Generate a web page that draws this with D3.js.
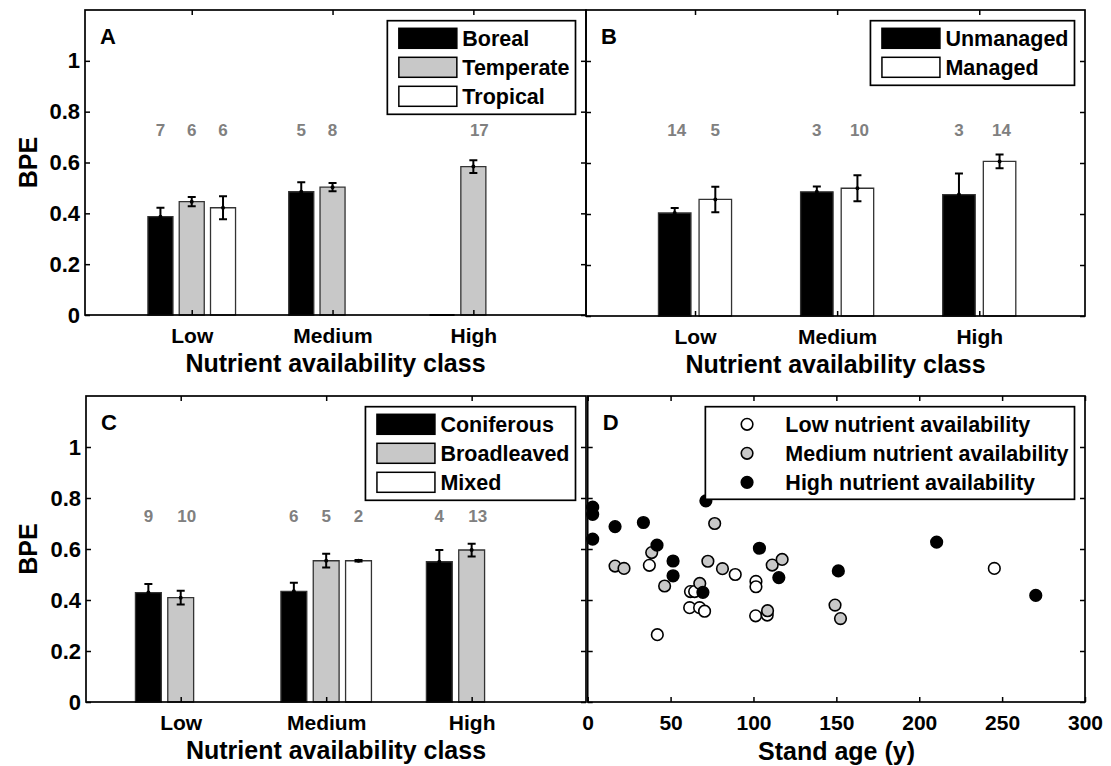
<!DOCTYPE html>
<html>
<head>
  <meta charset="utf-8">
  <title>BPE by nutrient availability</title>
  <script src="https://d3js.org/d3.v7.min.js"></script>
  <style>
    body { margin: 0; background: #fff; }
    svg text { font-family: "Liberation Sans", Arial, sans-serif; font-weight: bold; }
  </style>
</head>
<body>
<script>
// shared categories and ticks
var nutrientClasses = ["Low", "Medium", "High"];
var yTicks = [0, 0.2, 0.4, 0.6, 0.8, 1];
var ageTicks = [0, 50, 100, 150, 200, 250, 300];

// Panel A - biome
var biomeNames = ["Boreal", "Temperate", "Tropical"];
var biomeMean = [[0.387, 0.485, 0], [0.446, 0.503, 0.584], [0.422, null, null]];
var biomeErr  = [[0.035, 0.037, null], [0.018, 0.016, 0.025], [0.045, null, null]];
var biomeN    = [[7, 5, null], [6, 8, 17], [6, null, null]];

// Panel B - management
var mgmtNames = ["Unmanaged", "Managed"];
var mgmtMean = [[0.404, 0.487, 0.476], [0.457, 0.501, 0.606]];
var mgmtErr  = [[0.020, 0.021, 0.083], [0.050, 0.051, 0.027]];
var mgmtN    = [[14, 3, 3], [5, 10, 14]];

// Panel C - forest type
var typeNames = ["Coniferous", "Broadleaved", "Mixed"];
var typeMean = [[0.429, 0.434, 0.550], [0.409, 0.554, 0.596], [null, 0.554, null]];
var typeErr  = [[0.034, 0.034, 0.046], [0.027, 0.027, 0.025], [null, 0.003, null]];
var typeN    = [[9, 6, 4], [10, 5, 13], [null, 2, null]];

// Panel D - stand age vs BPE
var scatterNames = ["Low nutrient availability", "Medium nutrient availability", "High nutrient availability"];
var lowAge  = [37.2, 42, 62, 64.5, 61.5, 67.5, 70.5, 89, 101.5, 101.5, 101.3, 108.3, 245.3];
var lowBPE  = [0.536, 0.264, 0.433, 0.433, 0.370, 0.370, 0.356, 0.500, 0.473, 0.452, 0.338, 0.341, 0.524];
var medAge  = [16.5, 21.9, 38.6, 46.4, 67.6, 72.5, 76.6, 81.3, 108.5, 111.3, 117.3, 149.2, 152.5];
var medBPE  = [0.533, 0.524, 0.586, 0.455, 0.465, 0.552, 0.700, 0.523, 0.358, 0.537, 0.559, 0.380, 0.327];
var highAge = [3, 3, 3, 16.5, 33.6, 41.8, 51.5, 51.5, 71.3, 69.5, 103.6, 115.3, 151.2, 210.5, 270.3];
var highBPE = [0.764, 0.736, 0.639, 0.688, 0.704, 0.615, 0.553, 0.495, 0.789, 0.430, 0.603, 0.488, 0.514, 0.627, 0.418];

var GRAY = "#c8c8c8";

var svg = d3.select("body").append("svg")
    .attr("width", 1111)
    .attr("height", 766);

var barPanels = [
  {letter: "A", box: [85, 10, 586, 315], xlim: [0.242, 3.80], names: biomeNames, mean: biomeMean, err: biomeErr, n: biomeN,
   fills: ["#000", GRAY, "#fff"], yLabels: true, nShift: -4},
  {letter: "B", box: [586, 10, 1085, 316], xlim: [0.233, 3.744], names: mgmtNames, mean: mgmtMean, err: mgmtErr, n: mgmtN,
   fills: ["#000", "#fff"], yLabels: false, nShift: 0},
  {letter: "C", box: [86, 396, 586, 702], xlim: [0.349, 3.786], names: typeNames, mean: typeMean, err: typeErr, n: typeN,
   fills: ["#000", GRAY, "#fff"], yLabels: true, nShift: -4}
];

function styleAxis(g, size) {
  g.attr("font-family", null).attr("font-size", null);
  g.select(".domain").remove();
  g.selectAll(".tick line").attr("stroke", "#000").attr("stroke-width", 1.5);
  g.selectAll("text").style("font-size", size + "px").attr("fill", "#000");
}

function drawFrame(p, x, y, xt, xFormat) {
  var x0 = p.box[0], y0 = p.box[1], x1 = p.box[2], y1 = p.box[3];
  var g = svg.append("g");

  g.append("g").attr("transform", "translate(" + x0 + ",0)")
    .call(d3.axisLeft(y).tickValues(yTicks).tickSize(-5).tickSizeOuter(0).tickPadding(5)
      .tickFormat(p.yLabels ? d3.format("") : function () { return ""; }))
    .call(styleAxis, 22);
  g.append("g").attr("transform", "translate(" + x1 + ",0)")
    .call(d3.axisRight(y).tickValues(yTicks).tickSize(-5).tickSizeOuter(0).tickFormat(""))
    .call(styleAxis, 21);
  g.append("g").attr("transform", "translate(0," + y1 + ")")
    .call(d3.axisBottom(x).tickValues(xt).tickSize(-5).tickSizeOuter(0).tickPadding(13).tickFormat(xFormat))
    .call(styleAxis, 21);
  g.append("g").attr("transform", "translate(0," + y0 + ")")
    .call(d3.axisTop(x).tickValues(xt).tickSize(-5).tickSizeOuter(0).tickFormat(""))
    .call(styleAxis, 21);

  g.append("rect")
    .attr("x", x0).attr("y", y0)
    .attr("width", x1 - x0).attr("height", y1 - y0)
    .attr("fill", "none").attr("stroke", "#000").attr("stroke-width", 1.7);

  g.append("text")
    .attr("x", x0 + 15).attr("y", y0 + 34)
    .style("font-size", "22px")
    .text(p.letter);

  if (p.yLabels) {
    g.append("text")
      .attr("transform", "translate(37," + ((y0 + y1) / 2) + ") rotate(-90)")
      .attr("text-anchor", "middle")
      .style("font-size", "25px")
      .text("BPE");
  }
  return g;
}

function drawLegend(p, rowsY, drawKey) {
  var g = svg.append("g");
  var box = g.append("rect").attr("fill", "#fff").attr("stroke", "#000").attr("stroke-width", 1.7);
  var texts = [];
  p.names.forEach(function (name, i) {
    texts.push(g.append("text")
      .attr("y", rowsY[i])
      .attr("dy", "0.35em")
      .style("font-size", "21.5px")
      .text(name));
  });
  var maxW = d3.max(texts, function (t) { return t.node().getComputedTextLength(); });
  var right = p.box[2] - 10.5;
  var left = right - (p.textOff + maxW + 6);
  box.attr("x", left).attr("y", p.box[1] + 10.7)
     .attr("width", right - left)
     .attr("height", rowsY[rowsY.length - 1] - p.box[1] - 10.7 + p.legendBottom);
  texts.forEach(function (t) { t.attr("x", left + p.textOff); });
  p.names.forEach(function (name, i) { drawKey(g, left, rowsY[i], i); });
}

barPanels.forEach(function (p) {
  var x = d3.scaleLinear().domain(p.xlim).range([p.box[0], p.box[2]]);
  var y = d3.scaleLinear().domain([0, 1.2]).range([p.box[3], p.box[1]]);
  var k = p.names.length;
  var groupW = Math.min(0.8, k / (k + 1.5));
  var step = groupW / k;
  var barW = 0.8 * step;

  var g = svg.append("g");
  p.names.forEach(function (name, s) {
    nutrientClasses.forEach(function (c, i) {
      var m = p.mean[s][i];
      if (m == null) return;
      var cx = (i + 1) + (s - (k - 1) / 2) * step;
      var xa = x(cx - barW / 2), xb = x(cx + barW / 2);
      g.append("path")
        .attr("d", "M" + xa + "," + y(0) + "V" + y(m) + "H" + xb + "V" + y(0) + "Z")
        .attr("fill", p.fills[s])
        .attr("stroke", m === 0 ? "#000" : "#333")
        .attr("stroke-width", m === 0 ? 2 : 1.3);
      var e = p.err[s][i];
      if (e != null) {
        var px = x(cx);
        g.append("path")
          .attr("d", "M" + px + "," + y(m - e) + "V" + y(m + e) +
                     "M" + (px - 4) + "," + y(m + e) + "H" + (px + 4) +
                     "M" + (px - 4) + "," + y(m - e) + "H" + (px + 4))
          .attr("fill", "none").attr("stroke", "#000").attr("stroke-width", 2);
        g.append("circle").attr("cx", px).attr("cy", y(m)).attr("r", 2).attr("fill", "#000");
      }
      var cnt = p.n[s][i];
      if (cnt != null) {
        g.append("text")
          .attr("x", x(cx) + (cnt >= 10 ? -p.nShift + 2 : 0))
          .attr("y", y(0.728))
          .attr("dy", "0.35em")
          .attr("text-anchor", "middle")
          .attr("fill", "#808080")
          .style("font-size", "17px")
          .text(cnt);
      }
    });
  });

  drawFrame(p, x, y, [1, 2, 3], function (d) { return nutrientClasses[d - 1]; });

  svg.append("text")
    .attr("x", (p.box[0] + p.box[2]) / 2)
    .attr("y", p.box[3] + 57)
    .attr("text-anchor", "middle")
    .style("font-size", "25px")
    .text("Nutrient availability class");

  p.textOff = 75;
  p.legendBottom = 18;
  var rows = p.names.map(function (d, i) { return p.box[1] + 28.3 + i * 29; });
  drawLegend(p, rows, function (lg, left, ry, i) {
    lg.append("rect")
      .attr("x", left + 11.5).attr("y", ry - 10)
      .attr("width", 58).attr("height", 20)
      .attr("fill", p.fills[i]).attr("stroke", "#000").attr("stroke-width", 1.5);
  });
});

// Panel D scatter
var pD = {letter: "D", box: [587.7, 396, 1085, 702], names: scatterNames, yLabels: false};
var xD = d3.scaleLinear().domain([0, 300]).range([pD.box[0], pD.box[2]]);
var yD = d3.scaleLinear().domain([0, 1.2]).range([pD.box[3], pD.box[1]]);
var scatterSets = [
  {age: lowAge, bpe: lowBPE, fill: "#fff"},
  {age: medAge, bpe: medBPE, fill: GRAY},
  {age: highAge, bpe: highBPE, fill: "#000"}
];
var gD = svg.append("g");
scatterSets.forEach(function (set) {
  gD.selectAll(null)
    .data(d3.range(set.age.length))
    .join("circle")
      .attr("cx", function (i) { return xD(set.age[i]); })
      .attr("cy", function (i) { return yD(set.bpe[i]); })
      .attr("r", 5.8)
      .attr("fill", set.fill)
      .attr("stroke", "#000")
      .attr("stroke-width", 1.6);
});
drawFrame(pD, xD, yD, ageTicks, d3.format(""));
svg.append("text")
  .attr("x", 836.5)
  .attr("y", pD.box[3] + 58)
  .attr("text-anchor", "middle")
  .style("font-size", "25px")
  .text("Stand age (y)");

pD.textOff = 80;
pD.legendBottom = 17;
var rowsD = scatterNames.map(function (d, i) { return pD.box[1] + 28.3 + i * 29; });
drawLegend(pD, rowsD, function (lg, left, ry, i) {
  lg.append("circle")
    .attr("cx", left + 41.7).attr("cy", ry)
    .attr("r", 5.8)
    .attr("fill", scatterSets[i].fill)
    .attr("stroke", "#000").attr("stroke-width", 1.6);
});
</script>
</body>
</html>
